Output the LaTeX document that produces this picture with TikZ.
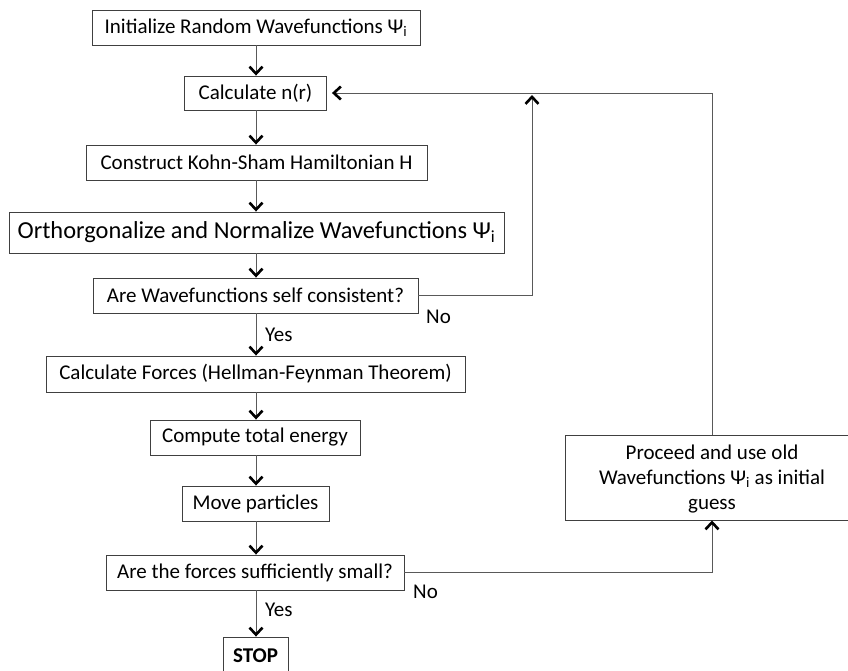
\documentclass[tikz,border=0pt]{standalone}
\usepackage{fontspec}
\setmainfont{Carlito}
\usetikzlibrary{arrows.meta}
\newcommand\subi{\textsubscript{i}}
\begin{document}
\begin{tikzpicture}[x=1pt,y=-1pt,
  box/.style={draw=black!75, line width=0.9pt, fill=white, inner sep=0pt, font=\fontsize{21}{25}\selectfont, text=black},
  arr/.style={draw=black!65, line width=0.9pt, -{Straight Barb[length=7pt,width=13pt,line width=2.6pt,black]}},
  lbl/.style={font=\fontsize{21}{25}\selectfont, inner sep=0pt, anchor=west}]
\useasboundingbox (0,0) rectangle (848,670);
\clip (0,0) rectangle (848,670);
\coordinate (col) at (256,0);
\node[box, minimum width=328pt, minimum height=35pt] (init) at (256,27.5) {Initialize Random Wavefunctions Ψ\subi};
\node[box, minimum width=142pt, minimum height=34pt] (calc) at (255.5,93) {Calculate n(r)};
\node[box, minimum width=341pt, minimum height=35pt] (ks) at (256.5,162.5) {Construct Kohn-Sham Hamiltonian H};
\node[box, minimum width=495pt, minimum height=41pt, font=\fontsize{24.4}{29}\selectfont] (orth) at (256.5,232.5) {Orthorgonalize and Normalize Wavefunctions Ψ\subi};
\node[box, minimum width=325pt, minimum height=35pt] (sc) at (255.5,295.5) {Are Wavefunctions self consistent?};
\node[box, minimum width=419pt, minimum height=36pt] (forces) at (255.5,374) {Calculate Forces (Hellman-Feynman Theorem)};
\node[box, minimum width=210pt, minimum height=35pt] (energy) at (255,437.5) {Compute total energy};
\node[box, minimum width=147pt, minimum height=35pt] (move) at (255.5,503.5) {Move particles};
\node[box, minimum width=298pt, minimum height=35pt] (small) at (255,572.5) {Are the forces sufficiently small?};
\node[box, minimum width=65pt, minimum height=38pt, font=\fontsize{21}{25}\selectfont\bfseries] (stop) at (255.5,656) {STOP};
\node[box, minimum width=294pt, minimum height=85pt, align=center] (proc) at (712,477.5) {\rule{0pt}{18pt}Proceed and use old\\Wavefunctions Ψ\subi{} as initial\\guess};
\coordinate (j1) at (532,295.5);
\coordinate (j1top) at (532,95);
\coordinate (topright) at (712,93);
\draw[arr] (init.south -| col) -- (calc.north -| col);
\draw[arr] (calc.south -| col) -- (ks.north -| col);
\draw[arr] (ks.south -| col) -- (orth.north -| col);
\draw[arr] (orth.south -| col) -- (sc.north -| col);
\draw[arr] (sc.south -| col) -- (forces.north -| col);
\draw[arr] (forces.south -| col) -- (energy.north -| col);
\draw[arr] (energy.south -| col) -- (move.north -| col);
\draw[arr] (move.south -| col) -- (small.north -| col);
\draw[arr] (small.south -| col) -- (stop.north -| col);
\draw[arr] (sc.east) -- (j1) -- (j1top);
\draw[arr] (small.east) -- (small.east -| proc) -- (proc.south);
\draw[arr, shorten >=5pt] (proc.north) -- (topright) -- (calc.east);
\node[lbl] (yes1) at (265,335) {Yes};
\node[lbl] (no1) at (426,317) {No};
\node[lbl] (yes2) at (265,610) {Yes};
\node[lbl] (no2) at (413,592) {No};
\end{tikzpicture}
\end{document}
